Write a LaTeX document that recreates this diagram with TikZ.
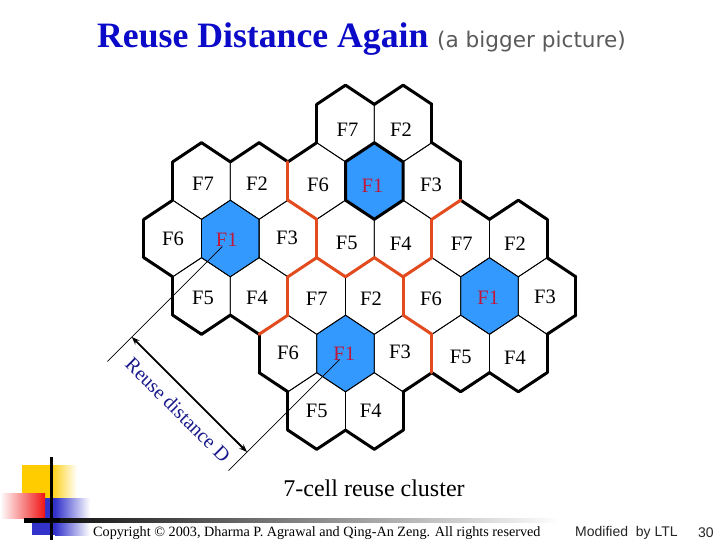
\documentclass[tikz,border=0pt]{standalone}
\usepackage{fontspec}
\setmainfont{Liberation Serif}
\newfontfamily\dejavu{DejaVu Sans}
\newfontfamily\libsans{Liberation Sans}
\usetikzlibrary{arrows.meta,calc}
\definecolor{cellblue}{RGB}{51,153,255}
\definecolor{fred}{RGB}{190,25,60}
\definecolor{bord}{RGB}{225,75,30}
\definecolor{titleblue}{RGB}{10,10,200}
\definecolor{navytext}{RGB}{25,25,140}
\definecolor{subgray}{RGB}{90,90,90}
\definecolor{decoyellow}{RGB}{255,204,0}
\definecolor{decoblue}{RGB}{51,51,204}
\definecolor{decored}{RGB}{240,20,20}
% vertex k (0=top, clockwise) of cell (q,r)
\newcommand\hv[3]{({374.3+57.6*((#1)+(#2)/2)+33.256*cos(90-60*(#3))},{181+57.5*(#2)-38.3*sin(90-60*(#3))})}
% centre of cell (q,r)
\newcommand\hc[2]{({374.3+57.6*((#1)+(#2)/2)},{181+57.5*(#2)})}
\newcommand\hexpath[2]{\hv{#1}{#2}{0} -- \hv{#1}{#2}{1} -- \hv{#1}{#2}{2} -- \hv{#1}{#2}{3} -- \hv{#1}{#2}{4} -- \hv{#1}{#2}{5} -- cycle}
\begin{document}
\begin{tikzpicture}[x=1pt,y=-1pt,
  thinedge/.style={draw=black,line width=0.8pt},
  outeredge/.style={draw=black,line width=3pt,line cap=round,line join=round},
  clusteredge/.style={draw=bord,line width=3pt,line cap=round,line join=round},
  celllabel/.style={font=\fontsize{20.5}{22}\selectfont,text=black,inner sep=0pt},
  f1label/.style={celllabel,text=fred},
  extline/.style={draw=black,line width=0.7pt},
  footer/.style={font=\fontsize{14.2}{16}\selectfont,anchor=base west,inner sep=0pt}]
\useasboundingbox (0,0) rectangle (720,540);
\fill[white] (0,0) rectangle (720,540);

% blue F1 cells
\foreach \q/\r in {0/0,-3/1,1/2,-2/3}
  \fill[cellblue] \hexpath{\q}{\r};

% all cell outlines (thin)
\foreach \q/\r in {0/-1,1/-1,-1/0,0/0,1/0,-1/1,0/1,
                   -3/0,-2/0,-4/1,-3/1,-2/1,-4/2,-3/2,
                   1/1,2/1,0/2,1/2,2/2,0/3,1/3,
                   -2/2,-1/2,-3/3,-2/3,-1/3,-3/4,-2/4}
  \draw[thinedge] \hexpath{\q}{\r};

% outer boundary (thick black)
\foreach \q/\r/\k in {0/-1/4,0/-1/0,0/-1/5, 1/-1/1,1/-1/0,1/-1/5,
                      -1/0/5, 1/0/1,1/0/0,
                      -3/0/4,-3/0/0,-3/0/5, -2/0/0,-2/0/5,
                      -4/1/4,-4/1/5,-4/1/3, -4/2/4,-4/2/2,-4/2/3, -3/2/3,
                      1/1/0, 2/1/1,2/1/0,2/1/5, 2/2/1,2/2/0,2/2/2,
                      0/3/2,0/3/3, 1/3/1,1/3/2,1/3/3,
                      -3/3/4,-3/3/3, -1/3/2, -3/4/4,-3/4/2,-3/4/3,
                      -2/4/1,-2/4/2,-2/4/3}
  \draw[outeredge] \hv{\q}{\r}{\k} -- \hv{\q}{\r}{\k+1};

% boundaries between clusters (orange)
\foreach \q/\r/\k in {-1/0/4,-1/0/3, 1/0/2, -1/1/4,-1/1/2,-1/1/3,
                      0/1/1,0/1/2,0/1/3, -2/1/2, -3/2/1,-3/2/2,
                      0/2/4,0/2/3, 0/3/4}
  \draw[clusteredge] \hv{\q}{\r}{\k} -- \hv{\q}{\r}{\k+1};

% centre cell of the top cluster
\draw[outeredge] \hexpath{0}{0};

% cell labels
\foreach \x/\y/\t [count=\i] in {347.5/130/F7, 401/130/F2,
                   203/184/F7, 257/184/F2, 318/185/F6, 431/185/F3,
                   173/239/F6, 287/237.5/F3, 346.7/243.3/F5, 400.7/243.3/F4, 461.7/243.3/F7, 515/243.3/F2,
                   203/297.5/F5, 257/297.5/F4, 316.7/298.3/F7, 371/298.3/F2, 431/299/F6, 545/297.3/F3,
                   288/352.5/F6, 400/351.7/F3, 460.7/357.3/F5, 515/357.3/F4,
                   316.7/410.7/F5, 370.7/410.7/F4}
  \node[celllabel] (cell\i) at (\x,\y) {\t};
\node[f1label] (fT) at (372.5,185.5) {F1};
\node[f1label] (fA) at (226.7,239.3) {F1};
\node[f1label] (fB) at (488.3,297.3) {F1};
\node[f1label] (fC) at (344.3,354) {F1};

% reuse distance
\path \hc{-3}{1} coordinate (cA);
\path \hc{-2}{3} coordinate (cC);
\draw[extline] ($(cA)+(-8,8)$) -- ($(cA)+(-123,123)$);
\draw[extline] ($(cC)+(-6,6)$) -- ($(cC)+(-117,117)$);
\draw[line width=1.8pt,{Stealth[length=8pt,width=6pt]}-{Stealth[length=8pt,width=6pt]}]
  ($(cA)+(-98.5,98.5)$) -- ($(cC)+(-98.5,98.5)$);
\node[rotate=-45,text=navytext,font=\fontsize{20}{22}\selectfont,inner sep=0pt] (dlabel) at (178,410) {Reuse distance D};

% title
\node[anchor=base west,inner sep=0pt,text=titleblue,font=\fontsize{35.7}{40}\selectfont\bfseries] (title) at (97,48) {Reuse Distance Again};
\node[anchor=base west,inner sep=0pt,text=subgray,font=\dejavu\fontsize{21.6}{24}\selectfont] (sub) at (437,48) {(a bigger picture)};

% caption
\node[anchor=base,inner sep=0pt,font=\fontsize{24}{26}\selectfont] (caption) at (374,496) {7-cell reuse cluster};

% decoration
\fill[decoyellow] (22,465) rectangle (50,498);
\shade[left color=decoyellow,right color=white] (50,465) rectangle (77,498);
\fill[decoblue] (32,498) rectangle (55,535);
\shade[left color=decoblue,right color=white] (55,498) rectangle (90,535);
\shade[left color=white,right color=decored] (0,493) rectangle (45,518);
\shade[left color=black,right color=white] (24,518) rectangle (560,522);
\fill[black] (24,518) rectangle (60,522);
\draw[line width=3pt] (51.7,457) -- (51.7,540);

% footer
\node[footer] (copyright) at (93,536) {Copyright © 2003, Dharma P. Agrawal and Qing-An Zeng. All rights reserved};
\node[footer,font=\libsans\fontsize{14}{16}\selectfont,text=black!85] (modified) at (575,536) {Modified\ \ by LTL};
\node[footer,font=\libsans\fontsize{14}{16}\selectfont,text=black!85] (pagenum) at (698,537) {30};
\end{tikzpicture}
\end{document}
